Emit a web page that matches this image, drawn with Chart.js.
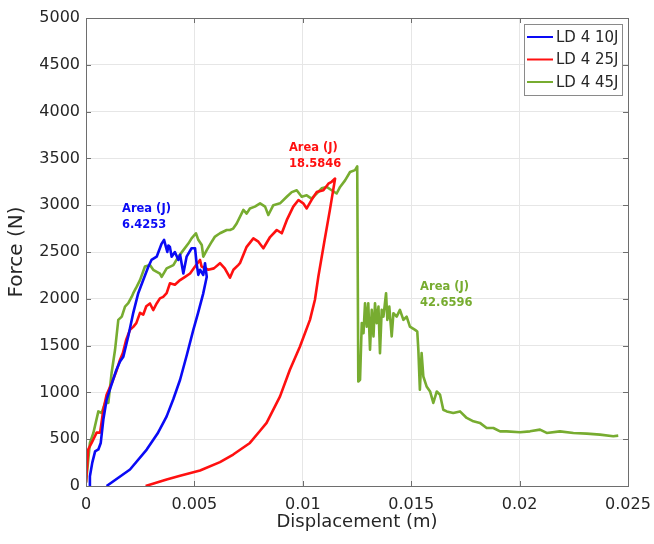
<!DOCTYPE html>
<html>
<head>
<meta charset="utf-8">
<script src="https://cdn.jsdelivr.net/npm/chart.js@4/dist/chart.umd.min.js"></script>
<style>
  html, body { margin: 0; padding: 0; background: #ffffff; }
  #wrap { width: 654px; height: 544px; position: relative; }
</style>
</head>
<body>
<div id="wrap"><canvas id="c" width="654" height="544"></canvas></div>
<script>
// Force–displacement curves for three impact energies: [displacement (m), force (N)]
const ld4_10J = [
  [0.00014,0],[0.00018,105],[0.00029,250],[0.00042,370],[0.00057,390],[0.00068,460],
  [0.0008,710],[0.00095,920],[0.0011,1030],[0.0014,1240],[0.00157,1330],[0.00172,1380],
  [0.00195,1600],[0.00218,1850],[0.00241,2060],[0.00264,2200],[0.00287,2340],[0.00302,2415],
  [0.00326,2450],[0.00349,2590],[0.0036,2630],[0.00368,2560],[0.00375,2500],[0.0038,2570],
  [0.00387,2555],[0.00395,2450],[0.0041,2500],[0.00426,2415],[0.00434,2470],[0.00449,2270],
  [0.00464,2450],[0.00487,2540],[0.00503,2540],[0.0051,2380],[0.00518,2255],[0.00526,2310],
  [0.00541,2255],[0.00549,2380],[0.00557,2235],
  [0.0054,2050],[0.00517,1850],[0.00495,1668],[0.00465,1400],[0.00434,1135],[0.00403,930],
  [0.00372,744],[0.0033,560],[0.0028,389],[0.00203,176],[0.00095,0]
];
const ld4_25J = [
  [0,37],[0.0001,390],[0.00026,460],[0.00049,570],[0.00065,570],[0.0008,815],[0.00095,975],
  [0.00119,1100],[0.00142,1240],[0.00157,1350],[0.0017,1420],[0.00185,1560],[0.00203,1670],
  [0.00218,1700],[0.00232,1740],[0.00249,1850],[0.00264,1830],[0.00278,1920],[0.00295,1950],
  [0.0031,1880],[0.00326,1950],[0.00341,2005],[0.00356,2020],[0.00372,2060],[0.00387,2165],
  [0.0041,2150],[0.00434,2200],[0.00457,2235],[0.0048,2270],[0.00503,2345],[0.00526,2415],
  [0.00533,2345],[0.00564,2310],[0.0059,2325],[0.00618,2380],[0.0064,2325],[0.00664,2225],
  [0.0068,2310],[0.00702,2360],[0.0071,2380],[0.00741,2555],[0.00772,2645],[0.00795,2610],
  [0.00818,2540],[0.00849,2660],[0.0088,2735],[0.00903,2700],[0.00926,2840],[0.00956,2985],
  [0.0098,3055],[0.01002,3020],[0.01018,2965],[0.0104,3055],[0.01064,3140],[0.01095,3160],
  [0.01118,3230],[0.01133,3250],[0.01149,3285],
  [0.01125,2950],[0.011,2620],[0.01072,2240],[0.01056,1990],[0.01033,1775],[0.00987,1490],
  [0.0094,1240],[0.00895,957],[0.00833,674],[0.00803,590],[0.00756,460],[0.00679,336],
  [0.00618,255],[0.00526,165],[0.00434,110],[0.00372,70],[0.00275,0]
];
const ld4_45J = [
  [0,37],[0.00018,460],[0.00034,567],[0.00057,797],[0.00072,780],[0.00088,887],[0.00103,887],
  [0.00118,1207],[0.00134,1455],[0.00149,1775],[0.00165,1810],[0.0018,1917],[0.00195,1953],
  [0.00211,2023],[0.00218,2060],[0.00234,2130],[0.00249,2200],[0.00272,2345],[0.00295,2360],
  [0.0031,2310],[0.00341,2270],[0.00349,2235],[0.00372,2325],[0.00403,2360],[0.00426,2450],
  [0.00449,2520],[0.00472,2590],[0.00487,2645],[0.00507,2700],[0.00518,2630],[0.00534,2575],
  [0.00541,2450],[0.00557,2520],[0.0058,2610],[0.00595,2665],[0.00618,2700],[0.00649,2735],
  [0.00664,2735],[0.00679,2750],[0.00695,2805],[0.00726,2950],[0.00741,2910],[0.00756,2965],
  [0.00779,2985],[0.00803,3020],[0.00826,2985],[0.00841,2895],[0.00864,3000],[0.00895,3020],
  [0.00926,3090],[0.00949,3140],[0.00972,3160],[0.00995,3090],[0.01018,3105],[0.0104,3070],
  [0.01064,3125],[0.01087,3180],[0.0111,3195],[0.01133,3160],[0.01156,3125],[0.01172,3195],
  [0.01195,3265],[0.01218,3355],[0.01241,3375],[0.01251,3415],
  [0.01256,1117],[0.01264,1135],[0.01272,1740],[0.0128,1633],[0.01287,1953],[0.01295,1703],
  [0.01302,1953],[0.0131,1455],[0.01318,1882],[0.01326,1597],[0.01333,1953],[0.01341,1740],
  [0.01349,1917],[0.01356,1420],[0.01364,1882],[0.01372,1810],[0.01384,2060],[0.0139,1775],
  [0.01399,1917],[0.0141,1597],[0.01418,1846],[0.01433,1810],[0.01448,1882],[0.01464,1775],
  [0.01479,1810],[0.01494,1703],[0.01518,1668],[0.01528,1650],[0.01533,1455],[0.0154,1030],
  [0.01548,1420],[0.01556,1170],[0.01571,1064],[0.01587,1010],[0.01602,887],[0.01618,1010],
  [0.01633,975],[0.01648,815],[0.01664,797],[0.01694,780],[0.01725,797],[0.01756,727],
  [0.01787,691],[0.01817,674],[0.01848,620],[0.01879,620],[0.0191,584],[0.0194,584],
  [0.02002,574],[0.02048,584],[0.02094,602],[0.02125,567],[0.02186,584],[0.02248,567],
  [0.0231,560],[0.02371,549],[0.02432,531],[0.02455,538]
];

const seriesNames  = ['LD 4 10J', 'LD 4 25J', 'LD 4 45J'];
const seriesColors = ['#0a0af5', '#ff1010', '#77ac30'];

// Absorbed-energy annotations: anchor [displacement, force] and the energy value
const areaAnchors = [[0.00166, 2958], [0.00936, 3609], [0.01541, 2127]];
const areaValues  = ['6.4253', '18.5846', '42.6596'];

const xTickValues = [0, 0.005, 0.01, 0.015, 0.02, 0.025];
const xTickLabels = ['0', '0.005', '0.01', '0.015', '0.02', '0.025'];
const yTickValues = [0, 500, 1000, 1500, 2000, 2500, 3000, 3500, 4000, 4500, 5000];
const yTickLabels = yTickValues.map(String);

const FONT = "'DejaVu Sans', Verdana, sans-serif";
const AXIS_COLOR = '#6e6e6e';
const TEXT_COLOR = '#262626';

// Short inward tick marks on all four sides of the box
const boxTicks = {
  id: 'boxTicks',
  afterDraw(chart) {
    const { ctx, chartArea: a, scales: { x, y } } = chart;
    const len = 5;
    ctx.save();
    ctx.strokeStyle = AXIS_COLOR;
    ctx.lineWidth = 1;
    ctx.beginPath();
    xTickValues.forEach(v => {
      const px = Math.round(x.getPixelForValue(v)) + 0.5;
      ctx.moveTo(px, a.top); ctx.lineTo(px, a.top + len);
      ctx.moveTo(px, a.bottom); ctx.lineTo(px, a.bottom - len);
    });
    yTickValues.forEach(v => {
      const py = Math.round(y.getPixelForValue(v)) + 0.5;
      ctx.moveTo(a.left, py); ctx.lineTo(a.left + len, py);
      ctx.moveTo(a.right, py); ctx.lineTo(a.right - len, py);
    });
    ctx.stroke();
    ctx.strokeRect(Math.round(a.left) + 0.5, Math.round(a.top) + 0.5,
                   Math.round(a.right - a.left), Math.round(a.bottom - a.top));
    ctx.restore();
  }
};

// "Area (J)" energy labels next to each curve
const areaLabels = {
  id: 'areaLabels',
  afterDatasetsDraw(chart) {
    const { ctx, scales: { x, y } } = chart;
    ctx.save();
    ctx.font = "bold 11.5px " + FONT;
    ctx.textAlign = 'left';
    ctx.textBaseline = 'middle';
    areaAnchors.forEach(([vx, vy], i) => {
      const px = x.getPixelForValue(vx);
      const py = y.getPixelForValue(vy);
      ctx.fillStyle = seriesColors[i];
      ctx.fillText('Area (J)', px, py);
      ctx.fillText(areaValues[i], px, py + 16);
    });
    ctx.restore();
  }
};

// Boxed legend in the upper-right corner of the plot
const boxLegend = {
  id: 'boxLegend',
  afterDraw(chart) {
    const { ctx, chartArea: a } = chart;
    const w = 98, h = 71;
    const left = a.right - 104, top = a.top + 6;
    ctx.save();
    ctx.fillStyle = '#ffffff';
    ctx.fillRect(left, top, w, h);
    ctx.strokeStyle = '#8a8a8a';
    ctx.lineWidth = 1;
    ctx.strokeRect(left + 0.5, top + 0.5, w, h);
    ctx.font = "15px " + FONT;
    ctx.textBaseline = 'middle';
    ctx.textAlign = 'left';
    chart.data.datasets.forEach((ds, i) => {
      const cy = top + 13 + i * 22.5;
      ctx.strokeStyle = ds.borderColor;
      ctx.lineWidth = 2;
      ctx.beginPath();
      ctx.moveTo(left + 3, cy); ctx.lineTo(left + 29, cy);
      ctx.stroke();
      ctx.fillStyle = TEXT_COLOR;
      ctx.fillText(ds.label, left + 32, cy + 1);
    });
    ctx.restore();
  }
};

const toPoints = arr => arr.map(([x, y]) => ({ x, y }));

new Chart(document.getElementById('c'), {
  type: 'line',
  data: {
    datasets: [ld4_10J, ld4_25J, ld4_45J].map((d, i) => ({
      label: seriesNames[i],
      data: toPoints(d),
      borderColor: seriesColors[i],
      borderWidth: 2.6,
      pointRadius: 0,
      tension: 0,
      borderJoinStyle: 'round',
      fill: false
    }))
  },
  options: {
    responsive: false,
    animation: false,
    events: [],
    layout: { padding: { left: 0, right: 26, top: 18, bottom: 0 } },
    plugins: { legend: { display: false }, tooltip: { enabled: false } },
    scales: {
      x: {
        type: 'linear',
        min: 0, max: 0.025,
        afterBuildTicks: s => { s.ticks = xTickValues.map(v => ({ value: v })); },
        afterFit: s => { s.height = 58; },
        border: { display: false },
        grid: { color: '#e6e6e6', lineWidth: 1, drawTicks: true, tickLength: 6, tickColor: 'rgba(0,0,0,0)' },
        ticks: {
          color: TEXT_COLOR,
          font: { family: FONT, size: 16 },
          padding: 3,
          maxRotation: 0,
          autoSkip: false,
          callback: (v, i) => xTickLabels[i]
        },
        title: {
          display: true,
          text: 'Displacement (m)',
          color: TEXT_COLOR,
          font: { family: FONT, size: 18 },
          padding: { top: 0, bottom: 11 }
        }
      },
      y: {
        type: 'linear',
        min: 0, max: 5000,
        afterBuildTicks: s => { s.ticks = yTickValues.map(v => ({ value: v })); },
        afterFit: s => { s.width = 86; },
        border: { display: false },
        grid: { color: '#e6e6e6', lineWidth: 1, drawTicks: true, tickLength: 3, tickColor: 'rgba(0,0,0,0)' },
        ticks: {
          color: TEXT_COLOR,
          font: { family: FONT, size: 16 },
          padding: 3,
          autoSkip: false,
          callback: (v, i) => yTickLabels[i]
        },
        title: {
          display: true,
          text: 'Force (N)',
          color: TEXT_COLOR,
          font: { family: FONT, size: 20 },
          padding: { top: 5, bottom: 0 }
        }
      }
    }
  },
  plugins: [areaLabels, boxTicks, boxLegend]
});
</script>
</body>
</html>
